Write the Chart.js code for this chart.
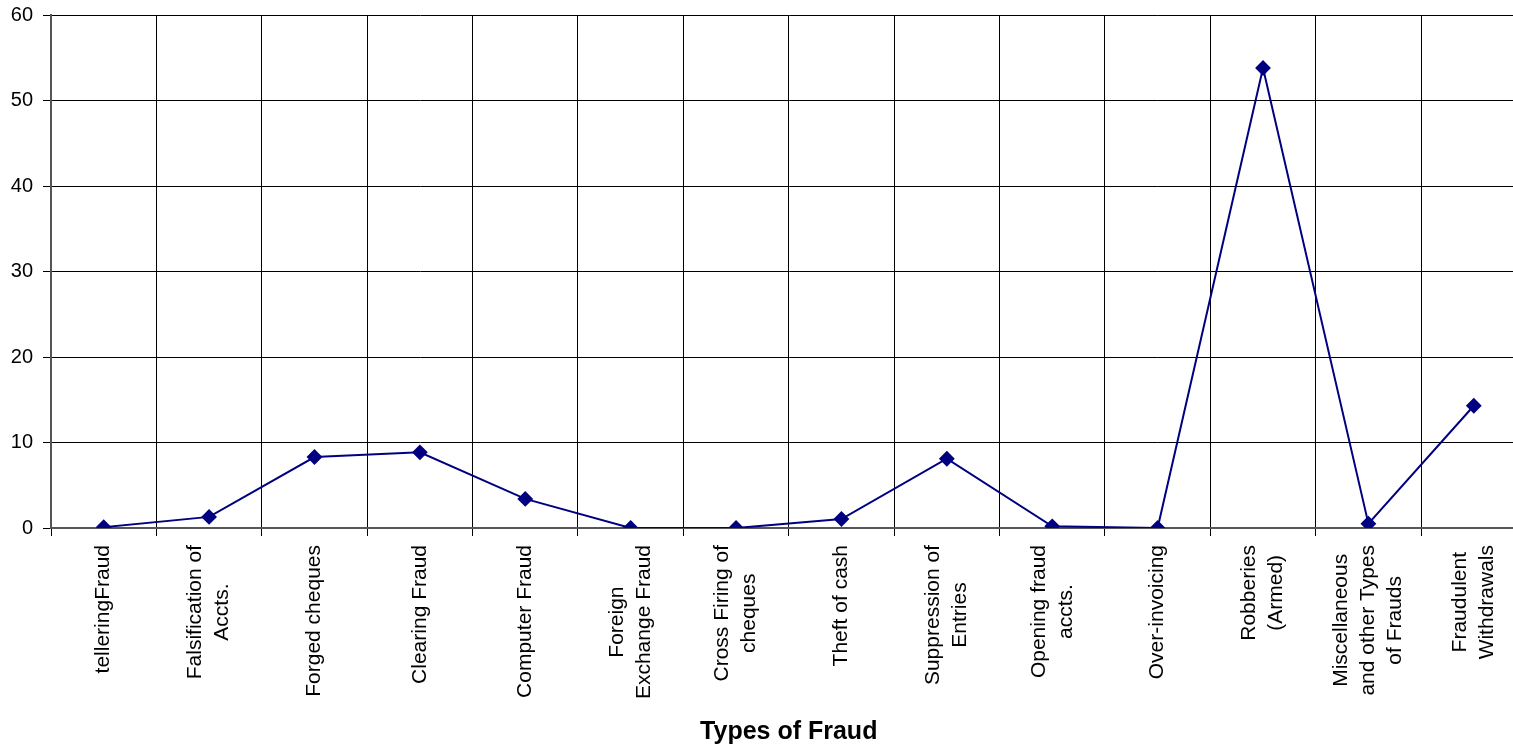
<!DOCTYPE html>
<html>
<head>
<meta charset="utf-8">
<title>Types of Fraud</title>
<script src="https://cdn.jsdelivr.net/npm/chart.js@4.4.0/dist/chart.umd.min.js"></script>
<style>
    html, body { margin: 0; padding: 0; background: #fff; overflow: hidden; }
    #wrap { position: relative; width: 1535px; height: 749px; }
</style>
</head>
<body>
<div id="wrap"><canvas id="myChart"></canvas></div>
<script>
// category names, already split into the lines shown under the axis
const categories = [
    ['telleringFraud'],
    ['Falsification of', 'Accts.'],
    ['Forged cheques'],
    ['Clearing Fraud'],
    ['Computer Fraud'],
    ['Foreign', 'Exchange Fraud'],
    ['Cross Firing of', 'cheques'],
    ['Theft of cash'],
    ['Suppression of', 'Entries'],
    ['Opening fraud', 'accts.'],
    ['Over-invoicing'],
    ['Robberies', '(Armed)'],
    ['Miscellaneous', 'and other Types', 'of Frauds'],
    ['Fraudulent', 'Withdrawals'],
];
const values = [0.1, 1.3, 8.3, 8.85, 3.4, 0, 0, 1.05, 8.1, 0.2, 0, 53.8, 0.5, 14.3];
const yTicks = [0, 10, 20, 30, 40, 50, 60];
const xTitle = 'Types of Fraud';

const FONT = '"Liberation Sans", Arial, sans-serif';

// draws the wrapped, rotated category labels centred line by line
const categoryLabels = {
    id: 'categoryLabels',
    afterDraw(chart) {
        const xs = chart.scales.x;
        const ctx = chart.ctx;
        ctx.save();
        ctx.font = '21px ' + FONT;
        ctx.fillStyle = '#000';
        ctx.textAlign = 'center';
        ctx.textBaseline = 'middle';
        categories.forEach((lines, i) => {
            const px = xs.getPixelForTick(i);
            const widest = Math.max(...lines.map(l => ctx.measureText(l).width));
            ctx.save();
            ctx.translate(px, xs.top + 17);
            ctx.rotate(-Math.PI / 2);
            lines.forEach((line, j) => {
                ctx.fillText(line, -widest / 2, (j - (lines.length - 1) / 2) * 27);
            });
            ctx.restore();
        });
        ctx.restore();
    }
};

document.addEventListener('DOMContentLoaded', function () {
    Chart.defaults.font.family = FONT;
    Chart.defaults.color = '#000';

    const ctx = document.getElementById('myChart').getContext('2d');
    new Chart(ctx, {
        type: 'line',
        data: {
            labels: categories.map(c => c.join(' ')),
            datasets: [{
                label: 'Fraud',
                data: values,
                borderColor: '#000080',
                backgroundColor: '#000080',
                borderWidth: 2,
                pointStyle: 'rectRot',
                pointRadius: 6.5,
                pointHoverRadius: 6.5,
                pointBackgroundColor: '#000080',
                pointBorderColor: '#000080',
                tension: 0,
            }]
        },
        options: {
            responsive: true,
            maintainAspectRatio: false,
            animation: false,
            layout: {
                padding: { left: 0, top: 15, right: 5, bottom: 0 }
            },
            plugins: {
                legend: { display: false },
                tooltip: { enabled: false }
            },
            scales: {
                x: {
                    type: 'category',
                    offset: true,
                    grid: {
                        offset: true,
                        color: '#000',
                        lineWidth: 1,
                        drawTicks: true,
                        tickLength: 8,
                    },
                    border: { color: '#555', width: 2 },
                    ticks: { display: false },
                    title: {
                        display: true,
                        text: xTitle,
                        font: { size: 25, weight: 'bold' },
                        padding: { top: 0, bottom: 2 }
                    },
                    afterFit: function (scale) {
                        scale.height = 221;
                    }
                },
                y: {
                    min: 0,
                    max: 60,
                    afterBuildTicks: function (scale) {
                        scale.ticks = yTicks.map(v => ({ value: v }));
                    },
                    grid: {
                        color: '#000',
                        lineWidth: 1,
                        tickLength: 8,
                    },
                    border: { color: '#555', width: 2 },
                    ticks: {
                        font: { size: 20 },
                        padding: 10,
                    },
                    afterFit: function (scale) {
                        scale.width = 51;
                        scale.paddingTop = 0;
                        scale.paddingBottom = 0;
                    }
                }
            }
        },
        plugins: [categoryLabels]
    });
});
</script>
</body>
</html>
